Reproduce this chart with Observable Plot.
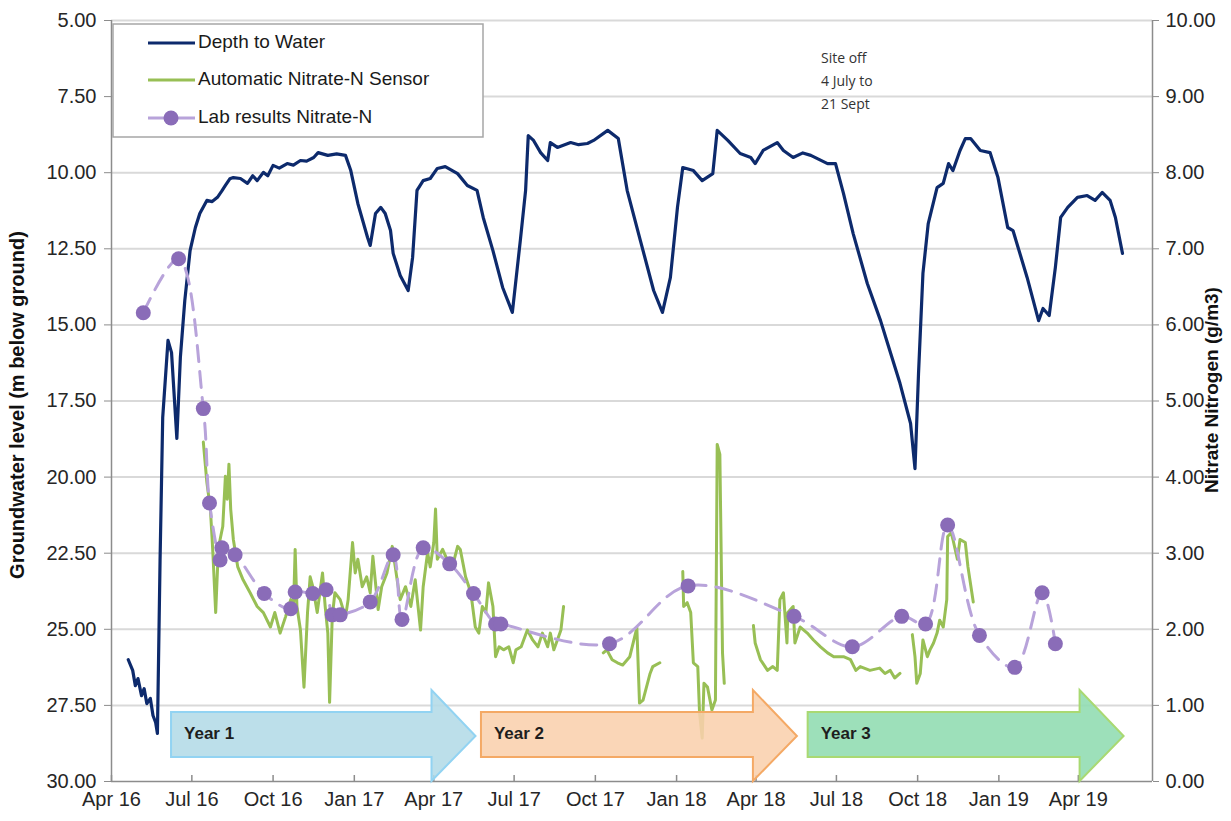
<!DOCTYPE html>
<html><head><meta charset="utf-8">
<script src="https://cdn.jsdelivr.net/npm/d3@7"></script>
<script src="https://cdn.jsdelivr.net/npm/@observablehq/plot@0.6"></script>
<style>
body{margin:0;background:#fff;}
#chart{position:relative;width:1231px;height:821px;}
</style></head><body><div id="chart"></div>
<script>
// ---------- DATA ----------
const xDomain = ["2016-04-01", "2019-06-24"];
const xTickDates = ["2016-04-01","2016-07-01","2016-10-01","2017-01-01","2017-04-01","2017-07-01","2017-10-01","2018-01-01","2018-04-01","2018-07-01","2018-10-01","2019-01-01","2019-04-01"];
const depthTicks = [5, 7.5, 10, 12.5, 15, 17.5, 20, 22.5, 25, 27.5, 30];
const nitrateTicks = [0,1,2,3,4,5,6,7,8,9,10];

// Depth to Water (m below ground)
const depthDates = ["2016-04-20","2016-04-25","2016-04-28","2016-05-01","2016-05-05","2016-05-08","2016-05-11","2016-05-15","2016-05-18","2016-05-21","2016-05-23","2016-05-26","2016-05-29","2016-06-04","2016-06-08","2016-06-14","2016-06-18","2016-06-23","2016-06-29","2016-07-05","2016-07-10","2016-07-18","2016-07-24","2016-07-30","2016-08-04","2016-08-08","2016-08-13","2016-08-17","2016-08-25","2016-09-02","2016-09-08","2016-09-13","2016-09-20","2016-09-25","2016-10-01","2016-10-08","2016-10-17","2016-10-24","2016-11-01","2016-11-08","2016-11-16","2016-11-21","2016-12-02","2016-12-12","2016-12-22","2016-12-28","2017-01-05","2017-01-16","2017-01-19","2017-01-25","2017-01-31","2017-02-05","2017-02-11","2017-02-14","2017-02-22","2017-03-03","2017-03-08","2017-03-13","2017-03-20","2017-03-28","2017-04-05","2017-04-14","2017-04-28","2017-05-09","2017-05-20","2017-05-27","2017-06-07","2017-06-18","2017-06-29","2017-07-08","2017-07-14","2017-07-17","2017-07-23","2017-07-31","2017-08-08","2017-08-11","2017-08-19","2017-09-03","2017-09-12","2017-09-22","2017-09-29","2017-10-15","2017-10-27","2017-11-06","2017-11-21","2017-12-06","2017-12-16","2017-12-25","2018-01-02","2018-01-08","2018-01-20","2018-01-30","2018-02-11","2018-02-16","2018-02-28","2018-03-14","2018-03-26","2018-03-31","2018-04-09","2018-04-25","2018-05-02","2018-05-13","2018-05-24","2018-06-02","2018-06-21","2018-06-30","2018-07-09","2018-07-20","2018-08-05","2018-08-20","2018-08-28","2018-09-11","2018-09-23","2018-09-28","2018-10-02","2018-10-07","2018-10-13","2018-10-23","2018-10-30","2018-11-05","2018-11-10","2018-11-18","2018-11-24","2018-11-30","2018-12-11","2018-12-22","2018-12-31","2019-01-11","2019-01-17","2019-02-02","2019-02-15","2019-02-20","2019-02-27","2019-03-06","2019-03-12","2019-03-20","2019-03-31","2019-04-11","2019-04-20","2019-04-28","2019-05-07","2019-05-13","2019-05-21"];
const depthValues = [26.0,26.35,26.85,26.62,27.18,26.95,27.44,27.27,27.83,28.06,28.42,22.74,18.04,15.51,15.91,18.73,16.07,14.2,12.56,11.8,11.34,10.91,10.95,10.81,10.6,10.42,10.2,10.16,10.19,10.35,10.1,10.26,9.99,10.1,9.76,9.85,9.70,9.75,9.60,9.62,9.50,9.34,9.43,9.38,9.43,9.93,11.01,12.13,12.39,11.34,11.14,11.34,11.90,12.65,13.38,13.87,12.79,10.58,10.26,10.19,9.86,9.80,10.03,10.42,10.58,11.47,12.56,13.77,14.59,12.23,10.58,8.78,8.94,9.34,9.60,9.01,9.17,9.01,9.08,9.04,8.94,8.61,8.88,10.58,12.23,13.87,14.59,13.44,11.14,9.83,9.93,10.26,10.03,8.61,8.94,9.37,9.50,9.70,9.27,9.01,9.27,9.50,9.35,9.43,9.70,9.70,10.68,12.0,13.64,14.86,15.61,16.92,18.24,19.72,16.6,13.31,11.67,10.49,10.35,9.70,9.93,9.27,8.88,8.88,9.27,9.34,10.16,11.80,11.90,13.44,14.86,14.46,14.69,13.11,11.47,11.14,10.81,10.75,10.91,10.65,10.91,11.47,12.65];

// Automatic Nitrate-N Sensor (g/m3); null = gap in record
const sensorDates = ["2016-07-14","2016-07-18","2016-07-22","2016-07-24","2016-07-25","2016-07-28","2016-07-31","2016-08-02","2016-08-05","2016-08-08","2016-08-10","2016-08-12","2016-08-14","2016-08-17","2016-08-22","2016-08-28","2016-09-05","2016-09-13","2016-09-20","2016-09-28","2016-10-03","2016-10-09","2016-10-15","2016-10-21","2016-10-24","2016-10-26","2016-10-28","2016-11-01","2016-11-05","2016-11-09","2016-11-12","2016-11-15","2016-11-20","2016-11-26","2016-11-29","2016-12-02","2016-12-04","2016-12-07","2016-12-10","2016-12-16","2016-12-22","2016-12-25","2016-12-30","2017-01-02","2017-01-05","2017-01-10","2017-01-15","2017-01-19","2017-01-22","2017-01-28","2017-02-01","2017-02-07","2017-02-13","2017-02-19","2017-02-22","2017-02-28","2017-03-06","2017-03-11","2017-03-17","2017-03-20","2017-03-25","2017-03-28","2017-04-01","2017-04-03","2017-04-05","2017-04-11","2017-04-16","2017-04-22","2017-04-28","2017-05-01","2017-05-07","2017-05-13","2017-05-18","2017-05-22","2017-05-26","2017-05-30","2017-06-02","2017-06-07","2017-06-10","2017-06-14","2017-06-19","2017-06-25","2017-06-30","2017-07-03","2017-07-09","2017-07-16","2017-07-22","2017-07-28","2017-08-02","2017-08-08","2017-08-11","2017-08-15","2017-08-19","2017-08-23","2017-08-26",
 "2017-09-20",
 "2017-10-10","2017-10-14","2017-10-20","2017-10-26","2017-11-01","2017-11-09","2017-11-17","2017-11-20","2017-11-24","2017-12-02","2017-12-05","2017-12-13",
 "2017-12-28",
 "2018-01-08","2018-01-09","2018-01-13","2018-01-17","2018-01-20","2018-01-25","2018-01-27","2018-01-30","2018-02-01","2018-02-05","2018-02-10","2018-02-14","2018-02-16","2018-02-19","2018-02-22","2018-02-24",
 "2018-03-15",
 "2018-03-29","2018-03-31","2018-04-06","2018-04-14","2018-04-20","2018-04-25","2018-04-28","2018-05-02","2018-05-06","2018-05-07","2018-05-13","2018-05-15","2018-05-21","2018-05-29","2018-06-05","2018-06-13","2018-06-21","2018-06-28","2018-07-09","2018-07-17","2018-07-23","2018-07-28","2018-08-08","2018-08-19","2018-08-25","2018-08-31","2018-09-05","2018-09-11",
 "2018-09-18",
 "2018-09-25","2018-09-28","2018-09-30","2018-10-04","2018-10-07","2018-10-12","2018-10-15","2018-10-19","2018-10-23","2018-10-26","2018-10-30","2018-11-03","2018-11-04","2018-11-08","2018-11-10","2018-11-15","2018-11-18","2018-11-24","2018-11-27","2018-12-03"];
const sensorValues = [4.46,3.93,3.58,3.18,2.96,2.22,3.05,3.18,3.35,4.01,3.71,4.17,3.58,3.18,2.82,2.65,2.48,2.30,2.22,2.03,2.22,1.95,2.16,2.39,2.22,3.05,2.30,1.99,1.24,2.22,2.69,2.56,2.22,2.74,2.30,1.95,1.04,2.16,2.48,2.39,2.16,2.39,3.14,2.74,2.92,2.56,2.69,2.48,2.96,2.26,2.56,2.74,3.09,2.61,2.39,2.56,2.30,2.65,1.99,2.56,3.01,2.82,3.14,3.58,2.92,3.05,2.92,2.82,3.09,3.05,2.69,2.48,2.03,1.95,2.30,2.22,2.61,2.30,1.64,1.77,1.73,1.77,1.56,1.73,1.77,1.99,1.86,1.77,1.95,1.77,1.95,1.73,1.86,1.99,2.30,
 null,
 1.69,1.73,1.60,1.56,1.53,1.64,2.02,1.03,1.07,1.42,1.51,1.56,
 null,
 2.76,2.30,2.35,2.22,1.56,1.51,0.90,0.57,1.29,1.24,0.94,1.07,4.43,4.30,1.69,1.29,
 null,
 2.05,1.82,1.60,1.46,1.51,1.46,2.39,2.48,1.82,2.22,2.30,1.82,2.03,1.95,1.86,1.77,1.69,1.64,1.64,1.60,1.46,1.51,1.46,1.49,1.42,1.46,1.36,1.42,
 null,
 1.93,1.64,1.29,1.42,1.86,1.64,1.73,1.82,1.95,2.12,2.03,2.39,3.22,3.27,3.18,2.92,3.18,3.14,2.82,2.36];

// Lab results Nitrate-N (g/m3)
const labDates = ["2016-05-07","2016-06-16","2016-07-14","2016-07-21","2016-08-02","2016-08-04","2016-08-19","2016-09-21","2016-10-21","2016-10-26","2016-11-15","2016-11-30","2016-12-07","2016-12-16","2017-01-19","2017-02-14","2017-02-24","2017-03-20","2017-04-19","2017-05-16","2017-06-10","2017-06-16","2017-10-17","2018-01-14","2018-05-14","2018-07-19","2018-09-13","2018-10-10","2018-11-04","2018-12-10","2019-01-19","2019-02-19","2019-03-06"];
const labValues = [6.16,6.87,4.90,3.66,2.91,3.07,2.98,2.47,2.27,2.49,2.47,2.52,2.19,2.19,2.36,2.98,2.13,3.07,2.86,2.47,2.07,2.07,1.81,2.57,2.17,1.77,2.17,2.07,3.37,1.92,1.50,2.48,1.81];

// Year periods (annotation arrows)
const yearLabels = ["Year 1", "Year 2", "Year 3"];
const yearStarts = ["2016-06-08", "2017-05-25", "2018-05-30"];
const yearEnds = ["2017-03-30", "2018-03-29", "2019-04-03"];

const seriesNames = ["Depth to Water", "Automatic Nitrate-N Sensor", "Lab results Nitrate-N"];
const noteLines = ["Site off", "4 July to", "21 Sept"];

// ---------- BUILD ----------
const P = d3.utcParse("%Y-%m-%d");
const toDepth = n => 30 - n * 2.5;           // secondary axis mapping
const fromDepth = d => (30 - d) / 2.5;
const depth = depthDates.map((d, i) => ({date: P(d), v: depthValues[i]}));
const sensor = sensorDates.map((d, i) => ({date: P(d), v: sensorValues[i] == null ? NaN : toDepth(sensorValues[i])}));
const lab = labDates.map((d, i) => ({date: P(d), v: toDepth(labValues[i])}));
const xTicks = xTickDates.map(P);

const C = {navy: "#0d2a6c", green: "#98bf55", labLine: "#b8a3da", labDot: "#8a6cb8", grid: "#d9d9d9", axis: "#8c8c8c", text: "#262626"};
const FONT = "'Liberation Sans', Arial, sans-serif";

const chart = Plot.plot({
  width: 1231, height: 821,
  marginLeft: 111, marginRight: 79, marginTop: 20, marginBottom: 40,
  style: {fontFamily: FONT, fontSize: "20px", color: C.text, background: "#fff", overflow: "visible"},
  x: {type: "utc", domain: xDomain.map(P)},
  y: {domain: [5, 30], reverse: true},
  marks: [
    Plot.ruleY(depthTicks.slice(0, -1), {stroke: C.grid, strokeWidth: 2}),
    Plot.ruleX([P(xDomain[0]), P(xDomain[1])], {stroke: C.axis, strokeWidth: 1.5}),
    Plot.ruleY([30], {stroke: C.axis, strokeWidth: 1.5}),
    Plot.tickX(xTicks, {x: d => d, stroke: C.axis, strokeWidth: 1.5, insetTop: 755}),
    Plot.axisY(depthTicks, {anchor: "left", tickFormat: d => d.toFixed(2), tickSize: 7, tickPadding: 8, stroke: C.axis, label: null}),
    Plot.axisY(nitrateTicks.map(toDepth), {anchor: "right", tickFormat: d => fromDepth(d).toFixed(2), tickSize: 6, tickPadding: 7, stroke: C.axis, label: null}),
    Plot.axisX(xTicks, {anchor: "bottom", tickFormat: d3.utcFormat("%b %y"), tickSize: 0, tickPadding: 10, label: null}),
    Plot.line(depth, {x: "date", y: "v", stroke: C.navy, strokeWidth: 3.2, strokeLinejoin: "round"}),
    Plot.line(sensor, {x: "date", y: "v", stroke: C.green, strokeWidth: 3, strokeLinejoin: "round"}),
    Plot.line(lab, {x: "date", y: "v", curve: "catmull-rom", stroke: C.labLine, strokeWidth: 3, strokeDasharray: "16,10"}),
    Plot.dot(lab, {x: "date", y: "v", r: 7.5, fill: C.labDot, stroke: "none"})
  ]
});
document.getElementById("chart").appendChild(chart);

// ---------- ANNOTATIONS (positioned with the chart's scales) ----------
const sx = chart.scale("x"), sy = chart.scale("y");
const X = d => sx.apply(d), Y = v => sy.apply(v);
const svg = d3.select(chart);
const bottom = Y(30);
const arrowStyles = [
  {fill: "#b3dbe7", stroke: "#92d3f2"},
  {fill: "#f9d0ad", stroke: "#f4a965"},
  {fill: "#8fdcb1", stroke: "#a9d972"}
];
const ga = svg.append("g").attr("text-anchor", "start");
yearLabels.forEach((lbl, i) => {
  const x0 = X(P(yearStarts[i])), x1 = X(P(yearEnds[i])), tip = x1 + 44;
  const bt = bottom - 69, bb = bottom - 24, ht = bottom - 91, hb = bottom, tm = bottom - 45;
  ga.append("path")
    .attr("d", `M${x0},${bt}H${x1}V${ht}L${tip},${tm}L${x1},${hb}V${bb}H${x0}Z`)
    .attr("fill", arrowStyles[i].fill).attr("fill-opacity", 0.88)
    .attr("stroke", arrowStyles[i].stroke).attr("stroke-width", 2);
  ga.append("text").attr("x", x0 + 13).attr("y", bottom - 46)
    .attr("text-anchor", "start")
    .attr("dominant-baseline", "middle")
    .attr("font-family", FONT)
    .attr("font-weight", "bold").attr("font-size", 17).attr("fill", "#1e1e1e").text(lbl);
});

// axis titles
svg.append("text").attr("transform", "translate(19,405) rotate(-90)")
  .attr("text-anchor", "middle").attr("dominant-baseline", "middle")
  .attr("font-family", FONT)
  .attr("font-weight", "bold").attr("font-size", 20).attr("fill", "#111")
  .text("Groundwater level (m below ground)");
svg.append("text").attr("transform", "translate(1213,390) rotate(-90)")
  .attr("text-anchor", "middle").attr("dominant-baseline", "middle")
  .attr("font-family", FONT)
  .attr("font-weight", "bold").attr("font-size", 19).attr("fill", "#111")
  .text("Nitrate Nitrogen (g/m3)");

// note
noteLines.forEach((t, i) => {
  svg.append("text").attr("x", 821).attr("y", 59 + i * 23)
    .attr("text-anchor", "start")
    .attr("dominant-baseline", "middle")
    .attr("font-family", "'Open Sans', 'Liberation Sans', sans-serif")
    .attr("font-size", 14).attr("fill", "#333").text(t);
});

// legend
const lg = svg.append("g").attr("text-anchor", "start");
lg.append("rect").attr("x", 113).attr("y", 24).attr("width", 370).attr("height", 113)
  .attr("fill", "#fff").attr("stroke", "#a6a6a6").attr("stroke-width", 1.5);
const rows = [43, 80, 118];
const legColors = [C.navy, C.green, C.labLine];
seriesNames.forEach((name, i) => {
  lg.append("line").attr("x1", 148).attr("x2", 195).attr("y1", rows[i]).attr("y2", rows[i])
    .attr("stroke", legColors[i]).attr("stroke-width", 3);
  if (i === 2) lg.append("circle").attr("cx", 171).attr("cy", rows[i]).attr("r", 7.5).attr("fill", C.labDot);
  lg.append("text").attr("x", 198).attr("y", rows[i]).attr("dominant-baseline", "middle")
    .attr("text-anchor", "start")
    .attr("font-family", FONT)
    .attr("font-size", 19).attr("fill", "#1a1a1a").text(name);
});
</script></body></html>
